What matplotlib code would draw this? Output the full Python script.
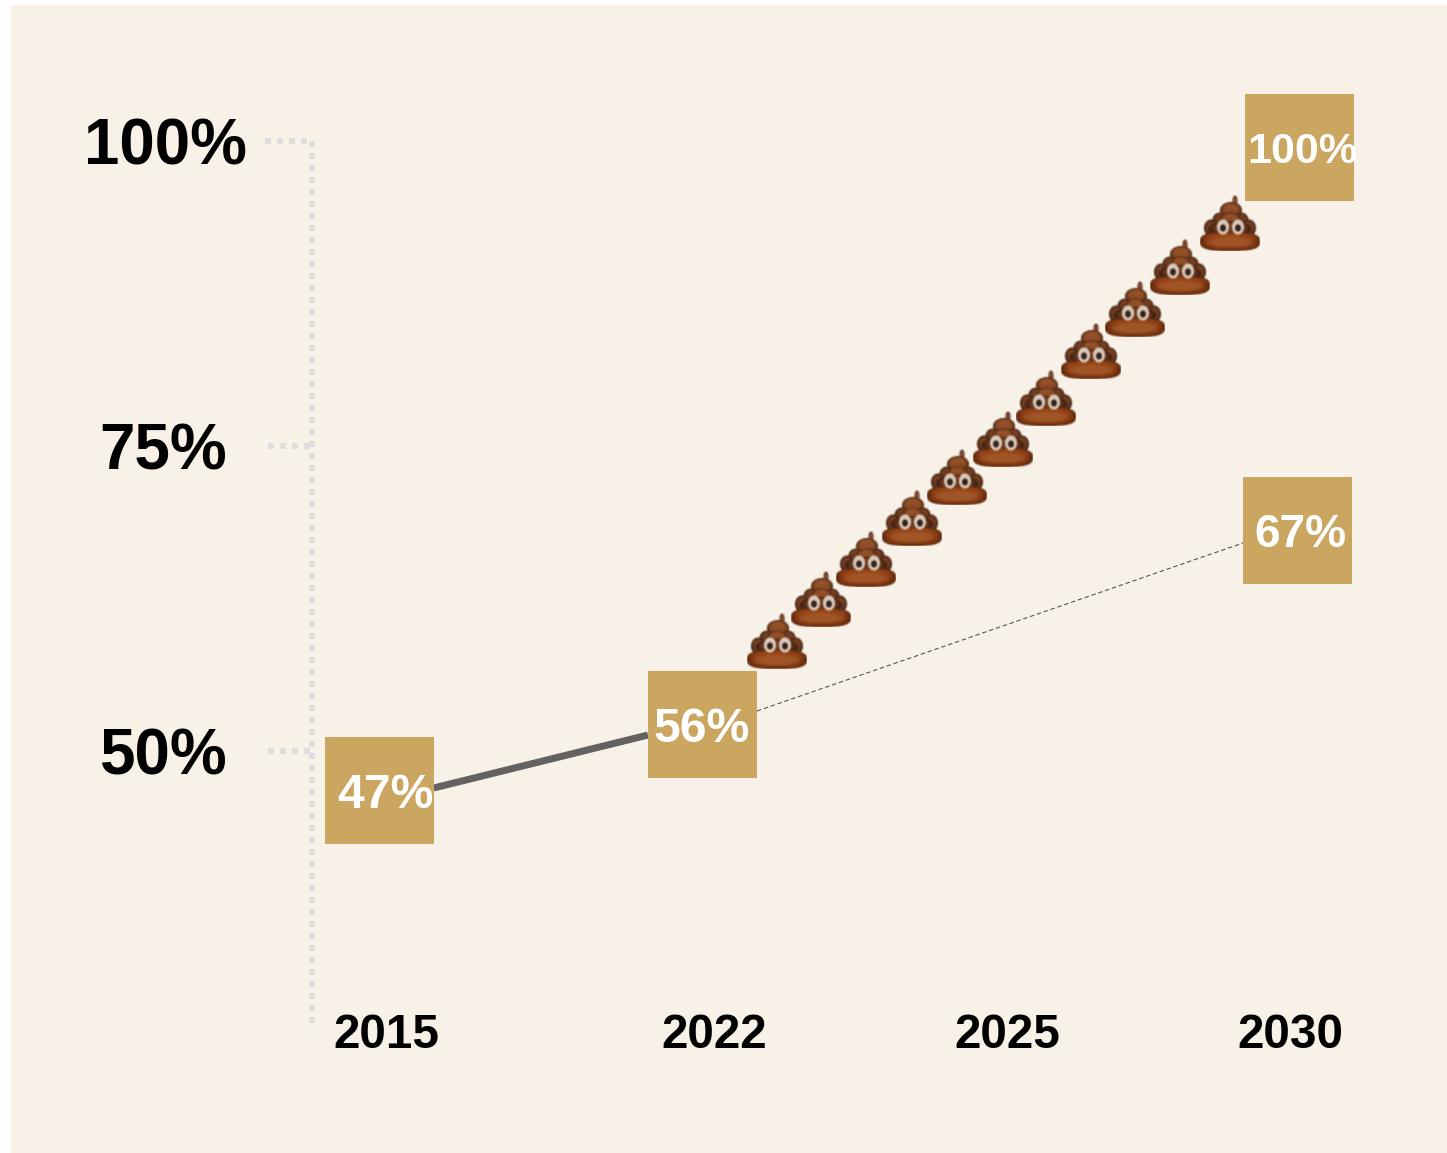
import numpy as np
import matplotlib
matplotlib.use("Agg")
import matplotlib.pyplot as plt
from matplotlib.path import Path
from matplotlib.patches import Rectangle
from matplotlib.offsetbox import OffsetImage, AnnotationBbox
from matplotlib.transforms import ScaledTranslation

plt.rcParams['font.family'] = ['Liberation Sans', 'DejaVu Sans']

# ---- data ----
year_ticks = [2015, 2022, 2025, 2030]
share_ticks = [50, 75, 100]
share_tick_labels = ["50%", "75%", "100%"]
box_years = [2014.85, 2021.74, 2030.125, 2030.155]
box_shares = [46.8, 52.2, 68.08, 99.48]
box_labels = ["47%", "56%", "67%", "100%"]
actual_years = [2016.02, 2020.59]
actual_shares = [46.97, 51.31]
projected_years = [2022.44, 2029.17]
projected_shares = [53.28, 67.05]
emoji_years = [2022.645, 2023.10, 2023.56, 2024.03, 2024.49, 2024.96,
               2025.69, 2026.48, 2027.26, 2028.06, 2028.94]
emoji_shares = [59.01, 62.46, 65.73, 69.09, 72.46, 75.56,
                78.93, 82.78, 86.23, 89.66, 93.26]

BG = "#F7F1E8"
GOLD = "#CBA661"
DOT = "#DEDEDE"

W, H = 1447, 1153
fig = plt.figure(figsize=(W / 100, H / 100), dpi=100, facecolor="white")
ax = fig.add_axes([0, 0, 1, 1])
ax.set_facecolor("none")
fig.patches.append(Rectangle((11 / W, 0), 1 - 11 / W, 1 - 5 / H, transform=fig.transFigure,
                             facecolor=BG, edgecolor="none", zorder=-5))

# piecewise year scale: the source spaces its four years unevenly
yr_pts = np.array([2000.0, 2015, 2022, 2025, 2030, 2045])
fr_pts = np.array([386 - 15 * 46.86, 386, 714, 1007, 1290, 1290 + 15 * 56.6]) / W
ax.set_xscale('function', functions=(lambda v: np.interp(v, yr_pts, fr_pts),
                                     lambda f: np.interp(f, fr_pts, yr_pts)))
ax.set_xlim(float(np.interp(0, fr_pts, yr_pts)), float(np.interp(1, fr_pts, yr_pts)))
ax.set_ylim(50 - (H - 751) / 12.2, 50 + 751 / 12.2)

for s in ax.spines.values():
    s.set_visible(False)

ax.set_xticks(year_ticks, [str(y) for y in year_ticks], fontsize=34.3, fontweight="bold", color="#000000")
ax.set_yticks(share_ticks, share_tick_labels, fontsize=45.9, fontweight="bold", color="#000000")
ax.tick_params(length=0, which="both")
ax.minorticks_off()
for lab in ax.get_xticklabels():
    lab.set_transform(ax.get_xaxis_transform())
    lab.set_verticalalignment("center")
    lab.set_y(1 - 1036 / H)
for lab, cx in zip(ax.get_yticklabels(), [163, 163, 165]):
    lab.set_horizontalalignment("center")
    lab.set_verticalalignment("center")
    lab.set_transform(ax.get_yaxis_transform() + ScaledTranslation(0, -6.5 / 100, fig.dpi_scale_trans))
    lab.set_x(cx / W)

# dotted frame
px2year = lambda p: float(np.interp(p / W, fr_pts, yr_pts))
dot_kw = dict(color=DOT, lw=6 * 0.72, dashes=(1, 1), dash_capstyle="butt", zorder=1)
ax.plot([px2year(312)] * 2, [100, 50 - (1030 - 751) / 12.2], **dot_kw)
for v, x0 in zip(share_ticks, [268, 268, 265]):
    ax.plot([px2year(x0), px2year(312)], [v, v], **dot_kw)

# trend lines
ax.plot(actual_years, actual_shares, color="#626262", lw=7 * 0.72, solid_capstyle="butt", zorder=2)
ax.plot(projected_years, projected_shares, color="#555555", lw=0.8, dashes=(4, 2.5), zorder=2)

# boxes
bw, bh = 1.0, 107 / 109
box_marker = Path([(-bw, -bh), (bw, -bh), (bw, bh), (-bw, bh), (-bw, -bh)], closed=True)
ax.plot(box_years, box_shares, ls="none", marker=box_marker, ms=109 * 0.72, mfc=GOLD, mew=0, zorder=3)
label_sizes = [34.7, 34.7, 33.1, 31]
label_dx = [6.5, 0, 3.5, 3]
label_dy = [-5, -5, -5, -5]
for x, y, t, fs, dx, dy in zip(box_years, box_shares, box_labels, label_sizes, label_dx, label_dy):
    ax.annotate(t, (x, y), xytext=(dx * 0.72, dy * 0.72), textcoords="offset points",
                ha="center", va="center", color="white", fontsize=fs, fontweight="bold", zorder=4)


# pile-of-poo glyph rendered as a small soft bitmap, since no emoji font is installed
def poo_glyph(w=60, h=56, ss=4):
    W2, H2 = w * ss, h * ss
    yy, xx = np.mgrid[0:H2, 0:W2]
    u = (xx + .5) / ss
    v = (yy + .5) / ss
    img = np.zeros((H2, W2, 4))

    def blob(cx, cy, rx, ry, c0, c1, p=2.0, rimk=0.5):
        d = np.abs((u - cx) / rx) ** p + np.abs((v - cy) / ry) ** p
        m = d <= 1
        t = np.clip((v - (cy - ry)) / (2 * ry), 0, 1)[..., None]
        shade = (1 - t) * np.array(c0) + t * np.array(c1)
        rim = np.clip((d - 0.4) / 0.6, 0, 1)[..., None]
        col = shade * (1 - rimk * rim)
        img[m, :3] = col[m]
        img[m, 3] = 1

    light = (0.62, 0.34, 0.17)
    mid = (0.50, 0.26, 0.13)
    dark = (0.36, 0.20, 0.12)
    # tip
    blob(35, 6, 2.6, 5.5, (0.52, 0.28, 0.20), mid)
    # upper tiers, lumpy
    blob(31, 15, 11, 8, light, mid)
    blob(20, 25, 7.5, 7.5, mid, dark)
    blob(41, 25, 7.5, 7.5, mid, dark)
    blob(30.5, 24, 10, 6.5, light, mid)
    blob(11, 33, 7, 8.5, mid, dark)
    blob(49, 33, 7, 8.5, mid, dark)
    blob(30, 34, 21, 8, mid, dark)
    # base: rounded slab, warmer band in the middle
    blob(30, 46.5, 30, 9.5, (0.62, 0.28, 0.10), (0.52, 0.21, 0.06), p=3.0, rimk=0.4)
    blob(30, 47, 22, 5.5, (0.64, 0.34, 0.15), (0.62, 0.33, 0.15), p=2.2, rimk=0.1)
    # eyes
    for ex in (23, 38):
        d = ((u - ex) / 6.0) ** 2 + ((v - 32) / 7.6) ** 2
        img[d <= 1] = (0.85, 0.79, 0.73, 1)
        d = ((u - ex) / 2.9) ** 2 + ((v - 33) / 3.6) ** 2
        img[d <= 1] = (0.20, 0.13, 0.10, 1)
    # average down, then a light blur to mimic the upscaled emoji
    a = img[..., 3].reshape(h, ss, w, ss).mean(axis=(1, 3))
    pm = (img[..., :3] * img[..., 3:]).reshape(h, ss, w, ss, 3).mean(axis=(1, 3))
    stack = np.dstack([pm, a])
    k = np.array([0.25, 0.5, 0.25])
    for axis in (0, 1):
        stack = np.apply_along_axis(lambda r: np.convolve(r, k, mode="same"), axis, stack)
    al = stack[..., 3]
    rgb = stack[..., :3] / np.maximum(al, 1e-4)[..., None]
    return np.clip(np.dstack([rgb, al]), 0, 1)


glyph = poo_glyph()
for x, y in zip(emoji_years, emoji_shares):
    ax.add_artist(AnnotationBbox(OffsetImage(glyph, zoom=0.72, interpolation="bilinear"), (x, y),
                                 frameon=False, pad=0, box_alignment=(0.5, 0.5), zorder=5))

fig.savefig("out.png", dpi=100, facecolor="white")
